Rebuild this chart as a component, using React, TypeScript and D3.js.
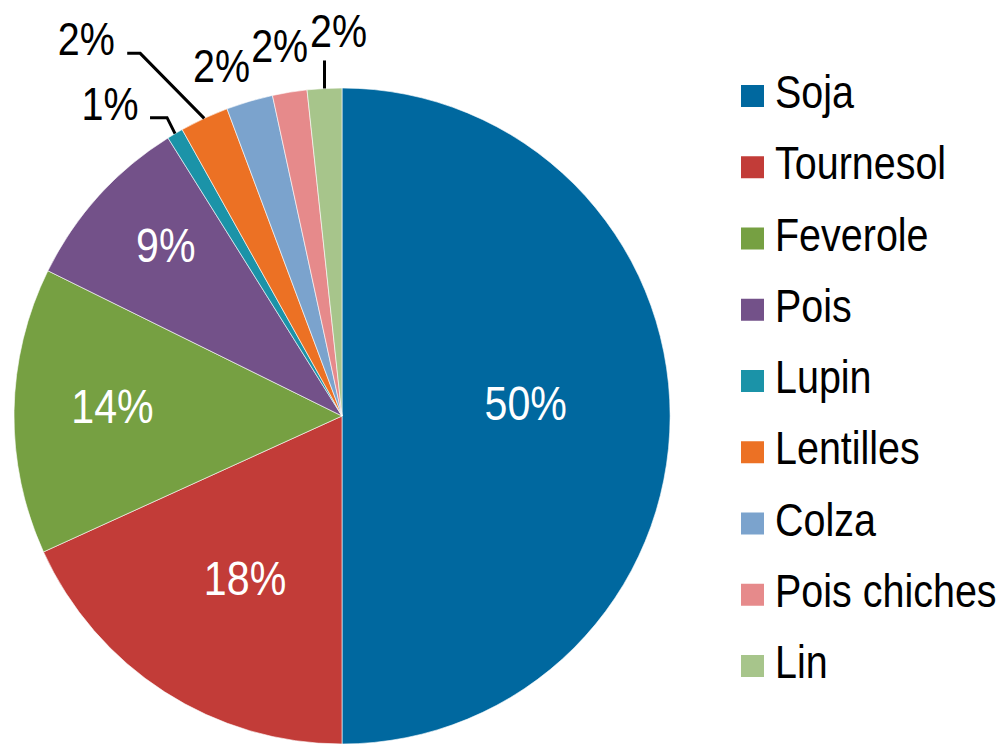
import React from "react";
import * as d3 from "d3";

const categories = ["Soja", "Tournesol", "Feverole", "Pois", "Lupin", "Lentilles", "Colza", "Pois chiches", "Lin"];
const values = [50, 18.2, 14.1, 8.8, 0.8, 2.4, 2.3, 1.7, 1.7];
const labels = ["50%", "18%", "14%", "9%", "1%", "2%", "2%", "2%", "2%"];
const colors = ["#00689f", "#c23c38", "#76a042", "#735189", "#1b93a8", "#ec7124", "#7ba3cd", "#e68a8b", "#a7c58b"];

// inside labels: radius fraction + nudge; outside labels: offsets relative to arc point
const insideRadius = [0.56, 0.58, 0.7, 0.745];
const insideNudge: [number, number][] = [[0, -13], [6, 2], [0, -6], [5, -7]];
const outsideLayout: { dx: number; dy: number; line: [number, number][] }[] = [
  { dx: -65, dy: -14, line: [[-8, -16], [-25, -16]] }, // Lupin
  { dx: -118, dy: -63, line: [[-64, -65], [-77, -65]] }, // Lentilles
  { dx: -28, dy: -19, line: [] }, // Colza
  { dx: -10, dy: -30, line: [] }, // Pois chiches
  { dx: 14, dy: -41, line: [[0, -28]] }, // Lin
];

const FONT = "'Liberation Sans', Arial, sans-serif";
const SX = 0.84;

export default function App() {
  const W = 1000, H = 744;
  const cx = 342, cy = 416, R = 328;
  const pie = d3.pie<number>().sort(null).value((d) => d).startAngle(0).endAngle(2 * Math.PI);
  const arcs = pie(values);
  const arc = d3.arc<d3.PieArcDatum<number>>().innerRadius(0).outerRadius(R);

  const legendY = d3.scaleLinear().domain([0, categories.length - 1]).range([96, 666]);

  return (
    <svg width={W} height={H} style={{ position: "absolute", left: 0, top: 0, background: "#fff" }} fontFamily={FONT}>
      <g transform={`translate(${cx},${cy})`}>
        {arcs.map((a, i) => (
          <path key={i} d={arc(a) || ""} fill={colors[i]} stroke="#fff" strokeWidth={0.6} />
        ))}
        {arcs.map((a, i) => {
          const mid = (a.startAngle + a.endAngle) / 2;
          if (i < 4) {
            const r = R * insideRadius[i];
            const x = Math.sin(mid) * r + insideNudge[i][0];
            const y = -Math.cos(mid) * r + insideNudge[i][1];
            return (
              <text key={"l" + i} transform={`translate(${x},${y}) scale(${SX},1)`} fill="#fff" fontSize={49} textAnchor="middle" dominantBaseline="central">
                {labels[i]}
              </text>
            );
          }
          const lay = outsideLayout[i - 4];
          const px = Math.sin(mid) * R;
          const py = -Math.cos(mid) * R;
          const pts: [number, number][] = [[px, py], ...lay.line.map(([dx, dy]) => [px + dx, py + dy] as [number, number])];
          return (
            <g key={"o" + i}>
              {pts.length > 1 && (
                <path d={d3.line()(pts) || ""} fill="none" stroke="#000" strokeWidth={3} />
              )}
              <text transform={`translate(${px + lay.dx},${py + lay.dy}) scale(${SX},1)`} fill="#000" fontSize={47} textAnchor="middle">
                {labels[i]}
              </text>
            </g>
          );
        })}
      </g>
      <g>
        {categories.map((c, i) => (
          <g key={c} transform={`translate(741,${legendY(i)})`}>
            <rect x={0} y={-11} width={23} height={22} fill={colors[i]} />
            <text transform={`translate(34,12) scale(${SX},1)`} fontSize={47} fill="#000">
              {c}
            </text>
          </g>
        ))}
      </g>
    </svg>
  );
}
